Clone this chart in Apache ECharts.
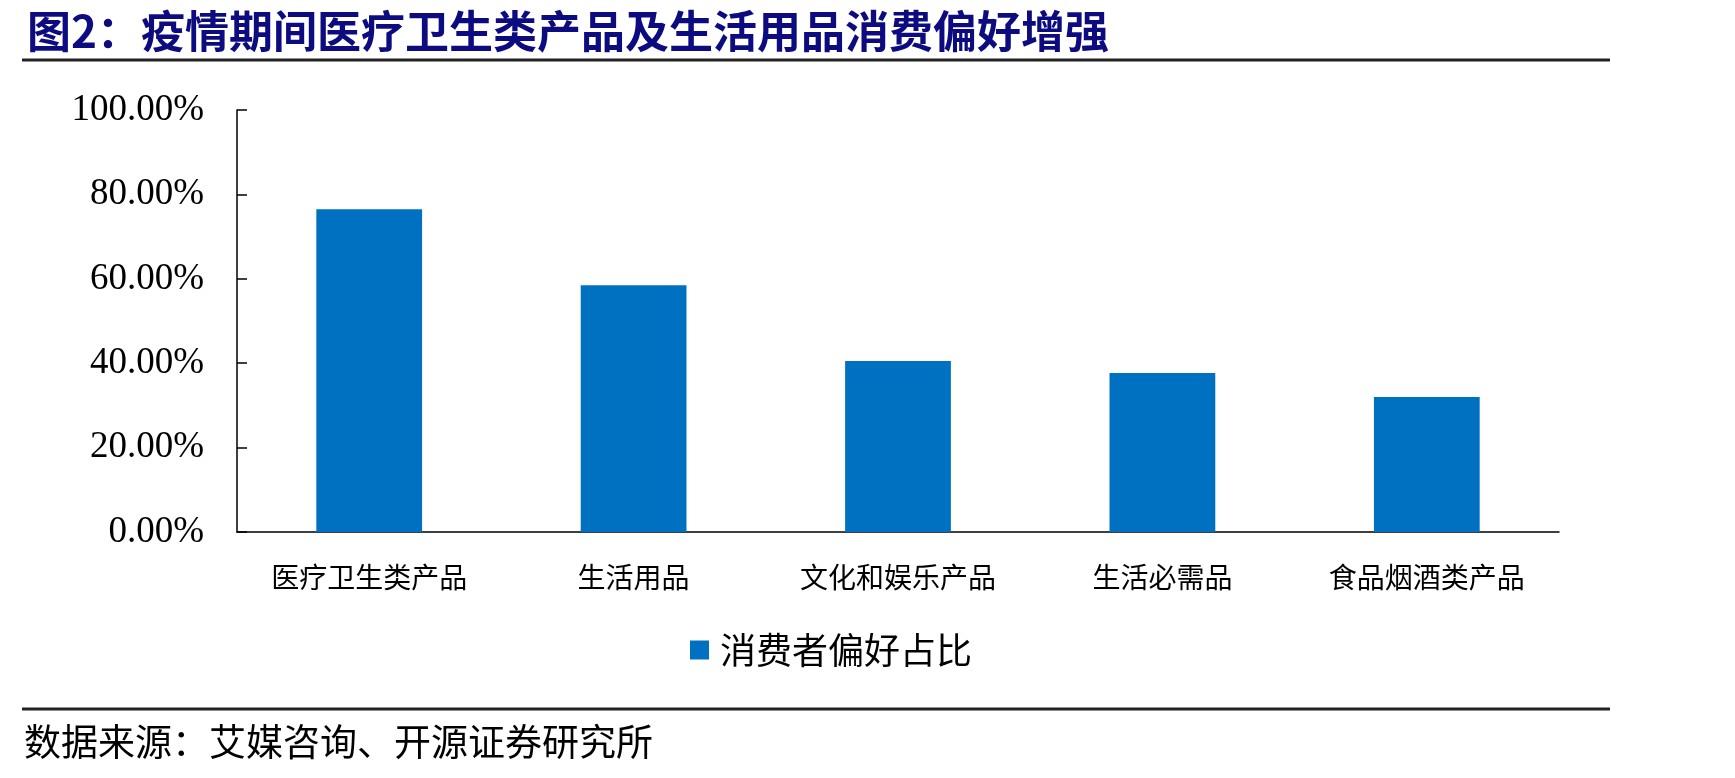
<!DOCTYPE html>
<html>
<head>
<meta charset="utf-8">
<script src="https://cdn.jsdelivr.net/npm/echarts@6/dist/echarts.min.js"></script>
<style>
  html, body { margin: 0; padding: 0; background: #fff; }
  #main { width: 1735px; height: 778px; }
</style>
</head>
<body>
<div id="main"></div>
<script>
const categories = ["医疗卫生类产品", "生活用品", "文化和娱乐产品", "生活必需品", "食品烟酒类产品"];
const shares = [0.765, 0.585, 0.405, 0.377, 0.32];
const seriesName = "消费者偏好占比";
const titleText = "图2：疫情期间医疗卫生类产品及生活用品消费偏好增强";
const sourceText = "数据来源：艾媒咨询、开源证券研究所";

const cjk = "'Noto Sans CJK SC', sans-serif";
const serif = "'Liberation Serif', 'DejaVu Serif', serif";

let myChart = echarts.init(document.getElementById("main"));

let option = {
  animation: false,
  backgroundColor: "#fff",
  title: {
    text: titleText,
    left: 22,
    top: 4,
    textStyle: {
      fontFamily: cjk,
      fontSize: 44,
      fontWeight: "bold",
      color: "#0c0c80",
    },
  },
  legend: {
    left: 685,
    top: 627,
    icon: "rect",
    itemWidth: 19,
    itemHeight: 19,
    textStyle: {
      fontFamily: cjk,
      fontSize: 36,
      color: "#000",
      padding: [0, 0, 0, 6],
    },
    data: [seriesName],
  },
  grid: {
    left: 237,
    right: 176,
    top: 110,
    bottom: 246,
    containLabel: false,
  },
  xAxis: {
    type: "category",
    data: categories,
    axisLine: { lineStyle: { color: "#000", width: 1.5 } },
    axisTick: { inside: true, length: 9, lineStyle: { color: "#000", width: 1.5 } },
    axisLabel: {
      margin: 31,
      fontFamily: cjk,
      fontSize: 28,
      color: "#000",
    },
  },
  yAxis: {
    type: "value",
    min: 0,
    max: 1,
    interval: 0.2,
    axisLine: { show: true, lineStyle: { color: "#000", width: 1.5 } },
    axisTick: { show: true, inside: true, length: 10, lineStyle: { color: "#000", width: 1.5 } },
    splitLine: { show: false },
    axisLabel: {
      margin: 33,
      fontFamily: serif,
      fontSize: 37,
      color: "#000",
      formatter: function (v) {
        return (v * 100).toFixed(2) + "%";
      },
    },
  },
  series: [
    {
      name: seriesName,
      type: "bar",
      data: shares,
      barWidth: "40%",
      itemStyle: { color: "#0070c0" },
    },
  ],
  graphic: [
    {
      type: "line",
      shape: { x1: 22, y1: 60, x2: 1610, y2: 60 },
      style: { stroke: "#222", lineWidth: 3 },
    },
    {
      type: "line",
      shape: { x1: 22, y1: 709, x2: 1610, y2: 709 },
      style: { stroke: "#222", lineWidth: 3 },
    },
    {
      type: "text",
      left: 24,
      top: 723,
      style: {
        text: sourceText,
        fontFamily: cjk,
        fontSize: 37,
        fill: "#000",
      },
    },
  ],
};

if (option && typeof option === "object") {
  myChart.setOption(option);
}
window.addEventListener("resize", myChart.resize);
</script>
</body>
</html>
